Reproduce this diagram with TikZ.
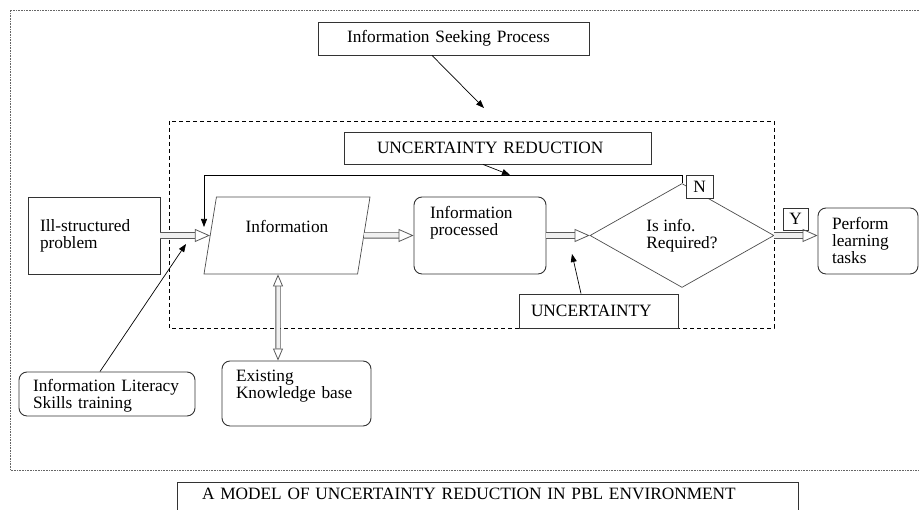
\documentclass[tikz,border=0pt]{standalone}
\usepackage{fontspec}
\setmainfont{Liberation Serif}
\usetikzlibrary{positioning, shapes.geometric, arrows.meta, calc}

\begin{document}
\begin{tikzpicture}[
    x=1pt, y=1pt,
    font=\fontsize{17.3pt}{17pt}\selectfont,
    box/.style={
        draw=black!80,
        line width=0.9pt,
        rectangle,
        fill=white,
        align=left,
        inner ysep=0pt
    },
    roundbox/.style={
        box,
        rounded corners=8pt
    },
    para/.style={
        draw=black!70,
        line width=0.7pt,
        trapezium,
        trapezium left angle=66.8,
        trapezium right angle=113.2,
        trapezium stretches body,
        minimum width=166pt,
        minimum height=77pt,
        inner sep=0pt
    },
    decision/.style={
        draw=black!70,
        line width=0.7pt,
        diamond,
        minimum width=184pt,
        minimum height=75pt,
        inner sep=0pt,
        align=left
    },
    tag/.style={draw=black!80, line width=0.9pt, fill=white, inner sep=0pt},
    arrow/.style={-{Triangle[length=8pt, width=6pt]}, line width=0.7pt},
    blockarrow/.style={
        draw=black!65,
        line width=0.8pt,
        double=black!6,
        double distance=4.5pt,
        -{Triangle[open, length=15pt, width=13pt]}
    },
    outerframe/.style={densely dotted, draw=black!60, line width=0.6pt},
    zone/.style={dash pattern=on 4pt off 3pt, line width=0.8pt}
]
\useasboundingbox (0,0) rectangle (919,510);

% Outer frame and dashed zone
\draw[outerframe] (919,500) -- (10,500) -- (10,40) -- (919,40);
\draw[zone] (169,389) rectangle (774,182);

% Seeking process
\node[box, minimum height=33pt, text width=213pt, inner xsep=29pt] (seek) at (453.5,471.5) {Information Seeking Process};
\coordinate (seektip) at (484,402);

% Uncertainty reduction
\node[box, minimum height=32pt, text width=241pt, inner xsep=33pt] (unred) at (497.5,362) {UNCERTAINTY REDUCTION};
\coordinate (redtip) at (510,335);
\coordinate (looptip) at (204,283);

% Main flow
\node[box, minimum height=77pt, text width=108pt, inner xsep=12pt] (ill) at (94,274.5) {Ill-structured\\problem};
\node[para, text height=12pt, text depth=17pt] (info) at (287,274.5) {Information};
\node[roundbox, minimum height=77pt, text width=100pt, inner xsep=16pt, text height=12pt, text depth=45pt] (proc) at (480,274.5) {Information\\processed};
\node[decision] (dec) at (682,274.5) {Is info.\\Required?};
\node[roundbox, minimum height=66pt, text width=72pt, inner xsep=14pt] (perf) at (868,269) {Perform\\learning\\tasks};

% Yes / No tags
\node[tag, minimum width=27pt, minimum height=23pt] (no) at (699.5,323.5) {N};
\node[tag, minimum width=25pt, minimum height=22pt] (yes) at (795.5,291) {Y};

% Uncertainty
\node[box, minimum height=34pt, text width=135pt, inner xsep=12pt] (unc) at (598.5,199) {UNCERTAINTY};
\coordinate (unctip) at (572,256);

% Knowledge base and training
\node[roundbox, minimum height=65pt, text width=121pt, inner xsep=14pt, text height=12pt, text depth=35pt] (kb) at (296.5,116.5) {Existing\\Knowledge base};
\node[roundbox, minimum height=44pt, text width=148pt, inner xsep=14pt, text height=12pt, text depth=16pt] (lit) at (107,116) {Information Literacy\\Skills training};
\coordinate (littip) at (186,266);

% Caption
\node[box, minimum height=36pt, text width=571pt, inner xsep=25pt, text height=12pt, text depth=12pt] (caption) at (487.5,10) {A MODEL OF UNCERTAINTY REDUCTION IN PBL ENVIRONMENT};

% Block arrows
\draw[blockarrow] (ill) -- (info);
\draw[blockarrow] (info) -- (proc);
\draw[blockarrow] (proc) -- (dec);
\draw[blockarrow] (dec.east) -- (perf.west |- dec.east);
\draw[blockarrow, double distance=3.5pt, {Triangle[open, length=12pt, width=10pt]}-{Triangle[open, length=12pt, width=10pt]}] ([xshift=-9pt]info.south) -- ([xshift=-18.5pt]kb.north);

% Thin arrows
\draw[arrow] ([xshift=-21.5pt]seek.south) -- (seektip);
\draw[arrow] ([xshift=-14.5pt]unred.south) -- (redtip);
\draw[arrow] (dec.north) -- (dec.north |- redtip) -| (looptip);
\draw[arrow] ([xshift=-17.5pt]unc.north) -- (unctip);
\draw[arrow] ([xshift=-7pt]lit.north) -- (littip);

\end{tikzpicture}
\end{document}
